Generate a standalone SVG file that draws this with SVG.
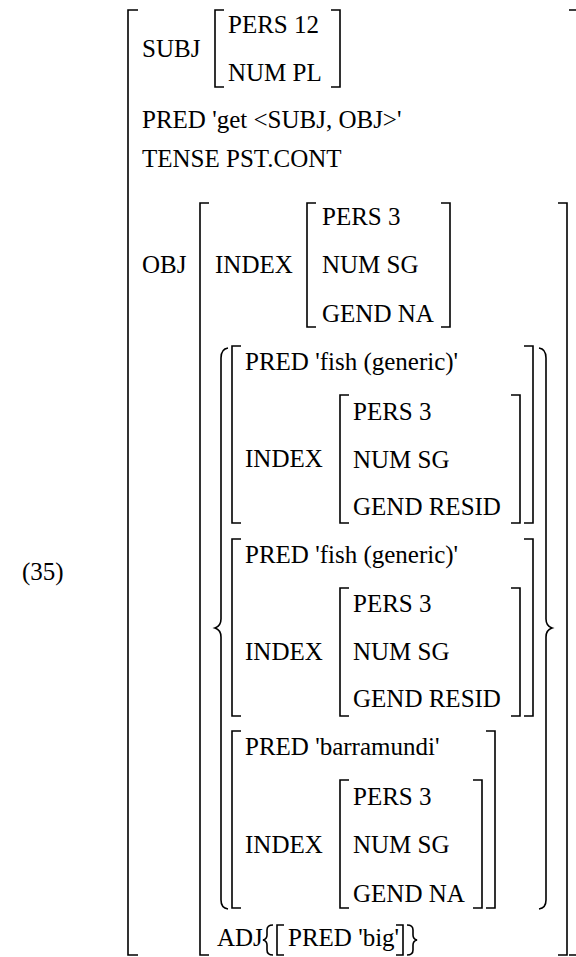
<svg xmlns="http://www.w3.org/2000/svg" width="576" height="957" viewBox="0 0 576 957">
<rect width="576" height="957" fill="#fff"/>
<text x="22" y="580" font-family="Times New Roman, Liberation Serif, Tinos, serif" font-size="25">(35)</text>
<text x="142" y="57" font-family="Times New Roman, Liberation Serif, Tinos, serif" font-size="25">SUBJ</text>
<text x="228" y="33" font-family="Times New Roman, Liberation Serif, Tinos, serif" font-size="25">PERS 12</text>
<text x="228" y="81" font-family="Times New Roman, Liberation Serif, Tinos, serif" font-size="25">NUM PL</text>
<text x="142" y="128" font-family="Times New Roman, Liberation Serif, Tinos, serif" font-size="25">PRED 'get &lt;SUBJ, OBJ&gt;'</text>
<text x="142" y="167" font-family="Times New Roman, Liberation Serif, Tinos, serif" font-size="25">TENSE PST.CONT</text>
<text x="142" y="273" font-family="Times New Roman, Liberation Serif, Tinos, serif" font-size="25">OBJ</text>
<text x="215" y="273" font-family="Times New Roman, Liberation Serif, Tinos, serif" font-size="25">INDEX</text>
<text x="322" y="225" font-family="Times New Roman, Liberation Serif, Tinos, serif" font-size="25">PERS 3</text>
<text x="322" y="273" font-family="Times New Roman, Liberation Serif, Tinos, serif" font-size="25">NUM SG</text>
<text x="322" y="322" font-family="Times New Roman, Liberation Serif, Tinos, serif" font-size="25">GEND NA</text>
<text x="245" y="370" font-family="Times New Roman, Liberation Serif, Tinos, serif" font-size="25">PRED 'fish (generic)'</text>
<text x="245" y="467" font-family="Times New Roman, Liberation Serif, Tinos, serif" font-size="25">INDEX</text>
<text x="353" y="420" font-family="Times New Roman, Liberation Serif, Tinos, serif" font-size="25">PERS 3</text>
<text x="353" y="468" font-family="Times New Roman, Liberation Serif, Tinos, serif" font-size="25">NUM SG</text>
<text x="353" y="515" font-family="Times New Roman, Liberation Serif, Tinos, serif" font-size="25">GEND RESID</text>
<text x="245" y="563" font-family="Times New Roman, Liberation Serif, Tinos, serif" font-size="25">PRED 'fish (generic)'</text>
<text x="245" y="660" font-family="Times New Roman, Liberation Serif, Tinos, serif" font-size="25">INDEX</text>
<text x="353" y="612" font-family="Times New Roman, Liberation Serif, Tinos, serif" font-size="25">PERS 3</text>
<text x="353" y="660" font-family="Times New Roman, Liberation Serif, Tinos, serif" font-size="25">NUM SG</text>
<text x="353" y="707" font-family="Times New Roman, Liberation Serif, Tinos, serif" font-size="25">GEND RESID</text>
<text x="245" y="755" font-family="Times New Roman, Liberation Serif, Tinos, serif" font-size="25">PRED 'barramundi'</text>
<text x="245" y="853" font-family="Times New Roman, Liberation Serif, Tinos, serif" font-size="25">INDEX</text>
<text x="353" y="805" font-family="Times New Roman, Liberation Serif, Tinos, serif" font-size="25">PERS 3</text>
<text x="353" y="853" font-family="Times New Roman, Liberation Serif, Tinos, serif" font-size="25">NUM SG</text>
<text x="353" y="902" font-family="Times New Roman, Liberation Serif, Tinos, serif" font-size="25">GEND NA</text>
<text x="217" y="946" font-family="Times New Roman, Liberation Serif, Tinos, serif" font-size="25">ADJ</text>
<text x="288" y="946" font-family="Times New Roman, Liberation Serif, Tinos, serif" font-size="25">PRED 'big'</text>
<g id="brackets" fill="none" stroke="#000" stroke-width="1.6" stroke-linejoin="miter">
<path d="M138 10H128V955H138"/>
<path d="M569 10H580V955H569"/>
<path d="M224 10H215V87H224"/>
<path d="M331 10H340V87H331"/>
<path d="M209 203H200V955H209"/>
<path d="M558 203H567V955H558"/>
<path d="M316 203H307V327H316"/>
<path d="M441 203H450V327H441"/>
<path d="M228 348Q221 349 221 358V619Q221 626 215 628Q221 630 221 637V900Q221 908 228 909"/>
<path d="M539 348Q546 349 546 358V619Q546 626 552 628Q546 630 546 637V900Q546 908 539 909"/>
<path d="M241 346H232V523H241"/>
<path d="M524 346H533V523H524"/>
<path d="M349 395H340V523H349"/>
<path d="M511 395H520V523H511"/>
<path d="M241 539H232V716H241"/>
<path d="M524 539H533V716H524"/>
<path d="M349 588H340V716H349"/>
<path d="M511 588H520V716H511"/>
<path d="M241 731H232V908H241"/>
<path d="M486 731H495V908H486"/>
<path d="M349 780H340V908H349"/>
<path d="M473 780H482V908H473"/>
<path d="M273 925Q267 925 267 930V935Q267 939 263 940Q267 941 267 945V950Q267 955 273 955"/>
<path d="M284 925H277V955H284"/>
<path d="M396 925H403V955H396"/>
<path d="M407 925Q413 925 413 930V935Q413 939 417 940Q413 941 413 945V950Q413 955 407 955"/>
</g>
</svg>
